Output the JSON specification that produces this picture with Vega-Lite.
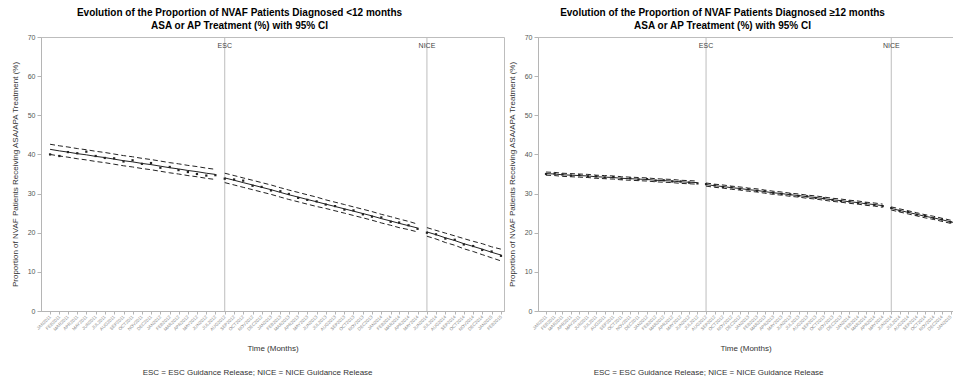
{
  "$schema": "https://vega.github.io/schema/vega-lite/v6.json",
  "background": "white",
  "padding": {"left": 10, "top": 7, "right": 0, "bottom": 0},
  "config": {
    "font": "Liberation Sans",
    "view": {"stroke": "#bdbdbd", "strokeWidth": 1},
    "axis": {"grid": false, "domainColor": "#b5b5b5", "tickColor": "#b5b5b5", "labelColor": "#555555", "titleColor": "#333333", "titleFontWeight": "normal", "titleFontSize": 8, "labelFont": "Liberation Sans", "titleFont": "Liberation Sans"},
    "axisY": {"values": [0, 10, 20, 30, 40, 50, 60, 70], "labelFontSize": 7, "tickSize": 4, "titlePadding": 8, "labelOverlap": false},
    "axisX": {"tickCount": {"interval": "month", "step": 1}, "labelExpr": "upper(utcFormat(datum.value, '%b%Y'))", "labelAngle": 315, "labelAlign": "right", "labelBaseline": "middle", "labelFontSize": 4.5, "labelColor": "#888888", "labelOverlap": false, "labelPadding": 2, "tickSize": 3, "titlePadding": 13},
    "title": {"font": "Liberation Sans", "fontSize": 10, "fontWeight": "bold", "color": "#000000", "anchor": "middle", "lineHeight": 13, "offset": 2}
  },
  "datasets": {
    "left": [
      {"date":"2011-01-01","seg":1,"mean":41.3,"hi":42.6,"lo":40.0,"obs":40.0},
      {"date":"2011-02-01","seg":1,"mean":40.9,"hi":42.2,"lo":39.6,"obs":39.6},
      {"date":"2011-03-01","seg":1,"mean":40.6,"hi":41.9,"lo":39.3,"obs":40.6},
      {"date":"2011-04-01","seg":1,"mean":40.2,"hi":41.5,"lo":38.9,"obs":40.3},
      {"date":"2011-05-01","seg":1,"mean":39.9,"hi":41.2,"lo":38.6,"obs":40.7},
      {"date":"2011-06-01","seg":1,"mean":39.5,"hi":40.8,"lo":38.2,"obs":39.6},
      {"date":"2011-07-01","seg":1,"mean":39.2,"hi":40.5,"lo":37.9,"obs":39.1},
      {"date":"2011-08-01","seg":1,"mean":38.8,"hi":40.1,"lo":37.5,"obs":39.0},
      {"date":"2011-09-01","seg":1,"mean":38.4,"hi":39.7,"lo":37.1,"obs":38.2},
      {"date":"2011-10-01","seg":1,"mean":38.1,"hi":39.4,"lo":36.8,"obs":38.5},
      {"date":"2011-11-01","seg":1,"mean":37.7,"hi":39.0,"lo":36.4,"obs":37.6},
      {"date":"2011-12-01","seg":1,"mean":37.4,"hi":38.7,"lo":36.1,"obs":37.8},
      {"date":"2012-01-01","seg":1,"mean":37.0,"hi":38.3,"lo":35.7,"obs":36.6},
      {"date":"2012-02-01","seg":1,"mean":36.6,"hi":37.9,"lo":35.3,"obs":36.8},
      {"date":"2012-03-01","seg":1,"mean":36.3,"hi":37.6,"lo":35.0,"obs":36.0},
      {"date":"2012-04-01","seg":1,"mean":35.9,"hi":37.2,"lo":34.6,"obs":35.5},
      {"date":"2012-05-01","seg":1,"mean":35.6,"hi":36.9,"lo":34.3,"obs":35.0},
      {"date":"2012-06-01","seg":1,"mean":35.2,"hi":36.5,"lo":33.9,"obs":34.6},
      {"date":"2012-07-01","seg":1,"mean":34.9,"hi":36.2,"lo":33.6,"obs":34.7},
      {"date":"2012-08-01","seg":2,"mean":34.0,"hi":35.2,"lo":32.8,"obs":33.8},
      {"date":"2012-09-01","seg":2,"mean":33.4,"hi":34.6,"lo":32.2,"obs":33.6},
      {"date":"2012-10-01","seg":2,"mean":32.8,"hi":34.0,"lo":31.6,"obs":33.3},
      {"date":"2012-11-01","seg":2,"mean":32.2,"hi":33.4,"lo":31.0,"obs":32.0},
      {"date":"2012-12-01","seg":2,"mean":31.6,"hi":32.8,"lo":30.4,"obs":31.7},
      {"date":"2013-01-01","seg":2,"mean":31.0,"hi":32.2,"lo":29.8,"obs":30.8},
      {"date":"2013-02-01","seg":2,"mean":30.3,"hi":31.5,"lo":29.1,"obs":30.6},
      {"date":"2013-03-01","seg":2,"mean":29.7,"hi":30.9,"lo":28.5,"obs":29.9},
      {"date":"2013-04-01","seg":2,"mean":29.1,"hi":30.3,"lo":27.9,"obs":28.9},
      {"date":"2013-05-01","seg":2,"mean":28.5,"hi":29.7,"lo":27.3,"obs":28.4},
      {"date":"2013-06-01","seg":2,"mean":27.9,"hi":29.1,"lo":26.7,"obs":28.0},
      {"date":"2013-07-01","seg":2,"mean":27.3,"hi":28.4,"lo":26.2,"obs":27.2},
      {"date":"2013-08-01","seg":2,"mean":26.7,"hi":27.8,"lo":25.6,"obs":26.8},
      {"date":"2013-09-01","seg":2,"mean":26.1,"hi":27.2,"lo":25.0,"obs":25.9},
      {"date":"2013-10-01","seg":2,"mean":25.5,"hi":26.6,"lo":24.4,"obs":25.7},
      {"date":"2013-11-01","seg":2,"mean":24.9,"hi":26.0,"lo":23.8,"obs":24.7},
      {"date":"2013-12-01","seg":2,"mean":24.3,"hi":25.4,"lo":23.2,"obs":24.1},
      {"date":"2014-01-01","seg":2,"mean":23.6,"hi":24.7,"lo":22.5,"obs":23.9},
      {"date":"2014-02-01","seg":2,"mean":23.0,"hi":24.1,"lo":21.9,"obs":22.8},
      {"date":"2014-03-01","seg":2,"mean":22.4,"hi":23.5,"lo":21.3,"obs":22.6},
      {"date":"2014-04-01","seg":2,"mean":21.8,"hi":22.9,"lo":20.8,"obs":21.9},
      {"date":"2014-05-01","seg":2,"mean":21.2,"hi":22.2,"lo":20.2,"obs":21.0},
      {"date":"2014-06-01","seg":3,"mean":20.2,"hi":21.3,"lo":19.1,"obs":20.0},
      {"date":"2014-07-01","seg":3,"mean":19.5,"hi":20.6,"lo":18.4,"obs":19.6},
      {"date":"2014-08-01","seg":3,"mean":18.7,"hi":19.9,"lo":17.5,"obs":18.5},
      {"date":"2014-09-01","seg":3,"mean":18.0,"hi":19.2,"lo":16.8,"obs":18.2},
      {"date":"2014-10-01","seg":3,"mean":17.2,"hi":18.5,"lo":15.9,"obs":17.0},
      {"date":"2014-11-01","seg":3,"mean":16.5,"hi":17.8,"lo":15.2,"obs":16.6},
      {"date":"2014-12-01","seg":3,"mean":15.8,"hi":17.2,"lo":14.4,"obs":15.6},
      {"date":"2015-01-01","seg":3,"mean":15.0,"hi":16.4,"lo":13.6,"obs":15.2},
      {"date":"2015-02-01","seg":3,"mean":14.3,"hi":15.8,"lo":12.8,"obs":14.1}
    ],
    "right": [
      {"date":"2011-01-01","seg":1,"mean":35.1,"hi":35.5,"lo":34.7,"obs":35.0},
      {"date":"2011-02-01","seg":1,"mean":35.0,"hi":35.4,"lo":34.6,"obs":35.1},
      {"date":"2011-03-01","seg":1,"mean":34.8,"hi":35.2,"lo":34.4,"obs":34.9},
      {"date":"2011-04-01","seg":1,"mean":34.7,"hi":35.1,"lo":34.3,"obs":34.6},
      {"date":"2011-05-01","seg":1,"mean":34.6,"hi":35.0,"lo":34.2,"obs":34.7},
      {"date":"2011-06-01","seg":1,"mean":34.5,"hi":34.9,"lo":34.1,"obs":34.4},
      {"date":"2011-07-01","seg":1,"mean":34.3,"hi":34.7,"lo":33.9,"obs":34.4},
      {"date":"2011-08-01","seg":1,"mean":34.2,"hi":34.6,"lo":33.8,"obs":34.1},
      {"date":"2011-09-01","seg":1,"mean":34.1,"hi":34.5,"lo":33.7,"obs":34.2},
      {"date":"2011-10-01","seg":1,"mean":33.9,"hi":34.3,"lo":33.5,"obs":33.8},
      {"date":"2011-11-01","seg":1,"mean":33.8,"hi":34.2,"lo":33.4,"obs":33.9},
      {"date":"2011-12-01","seg":1,"mean":33.7,"hi":34.1,"lo":33.3,"obs":33.6},
      {"date":"2012-01-01","seg":1,"mean":33.6,"hi":34.0,"lo":33.2,"obs":33.7},
      {"date":"2012-02-01","seg":1,"mean":33.4,"hi":33.8,"lo":33.0,"obs":33.3},
      {"date":"2012-03-01","seg":1,"mean":33.3,"hi":33.7,"lo":32.9,"obs":33.4},
      {"date":"2012-04-01","seg":1,"mean":33.2,"hi":33.6,"lo":32.8,"obs":33.1},
      {"date":"2012-05-01","seg":1,"mean":33.0,"hi":33.4,"lo":32.6,"obs":33.1},
      {"date":"2012-06-01","seg":1,"mean":32.9,"hi":33.3,"lo":32.5,"obs":32.8},
      {"date":"2012-07-01","seg":1,"mean":32.8,"hi":33.2,"lo":32.4,"obs":32.6},
      {"date":"2012-08-01","seg":2,"mean":32.3,"hi":32.7,"lo":31.9,"obs":32.4},
      {"date":"2012-09-01","seg":2,"mean":32.0,"hi":32.4,"lo":31.6,"obs":32.1},
      {"date":"2012-10-01","seg":2,"mean":31.8,"hi":32.2,"lo":31.4,"obs":31.7},
      {"date":"2012-11-01","seg":2,"mean":31.5,"hi":31.9,"lo":31.1,"obs":31.6},
      {"date":"2012-12-01","seg":2,"mean":31.3,"hi":31.7,"lo":30.9,"obs":31.2},
      {"date":"2013-01-01","seg":2,"mean":31.0,"hi":31.4,"lo":30.6,"obs":31.1},
      {"date":"2013-02-01","seg":2,"mean":30.8,"hi":31.2,"lo":30.4,"obs":30.7},
      {"date":"2013-03-01","seg":2,"mean":30.5,"hi":30.9,"lo":30.1,"obs":30.6},
      {"date":"2013-04-01","seg":2,"mean":30.2,"hi":30.6,"lo":29.8,"obs":30.2},
      {"date":"2013-05-01","seg":2,"mean":30.0,"hi":30.4,"lo":29.6,"obs":29.9},
      {"date":"2013-06-01","seg":2,"mean":29.7,"hi":30.1,"lo":29.3,"obs":29.8},
      {"date":"2013-07-01","seg":2,"mean":29.5,"hi":29.9,"lo":29.1,"obs":29.4},
      {"date":"2013-08-01","seg":2,"mean":29.2,"hi":29.6,"lo":28.8,"obs":29.3},
      {"date":"2013-09-01","seg":2,"mean":29.0,"hi":29.4,"lo":28.6,"obs":28.9},
      {"date":"2013-10-01","seg":2,"mean":28.7,"hi":29.1,"lo":28.3,"obs":28.8},
      {"date":"2013-11-01","seg":2,"mean":28.4,"hi":28.8,"lo":28.0,"obs":28.4},
      {"date":"2013-12-01","seg":2,"mean":28.2,"hi":28.6,"lo":27.8,"obs":28.1},
      {"date":"2014-01-01","seg":2,"mean":27.9,"hi":28.3,"lo":27.5,"obs":28.0},
      {"date":"2014-02-01","seg":2,"mean":27.7,"hi":28.1,"lo":27.3,"obs":27.6},
      {"date":"2014-03-01","seg":2,"mean":27.4,"hi":27.8,"lo":27.0,"obs":27.5},
      {"date":"2014-04-01","seg":2,"mean":27.2,"hi":27.6,"lo":26.8,"obs":27.1},
      {"date":"2014-05-01","seg":2,"mean":26.9,"hi":27.3,"lo":26.5,"obs":26.8},
      {"date":"2014-06-01","seg":3,"mean":26.2,"hi":26.6,"lo":25.8,"obs":26.3},
      {"date":"2014-07-01","seg":3,"mean":25.7,"hi":26.1,"lo":25.3,"obs":25.6},
      {"date":"2014-08-01","seg":3,"mean":25.2,"hi":25.6,"lo":24.8,"obs":25.3},
      {"date":"2014-09-01","seg":3,"mean":24.7,"hi":25.1,"lo":24.3,"obs":24.6},
      {"date":"2014-10-01","seg":3,"mean":24.2,"hi":24.6,"lo":23.8,"obs":24.3},
      {"date":"2014-11-01","seg":3,"mean":23.8,"hi":24.2,"lo":23.4,"obs":23.7},
      {"date":"2014-12-01","seg":3,"mean":23.3,"hi":23.7,"lo":22.9,"obs":23.4},
      {"date":"2015-01-01","seg":3,"mean":22.8,"hi":23.2,"lo":22.4,"obs":22.7},
      {"date":"2015-02-01","seg":3,"mean":22.3,"hi":22.7,"lo":21.9,"obs":22.3}
    ],
    "guides": [
      {"date":"2012-08-01","label":"ESC"},
      {"date":"2014-06-01","label":"NICE"}
    ]
  },
  "spacing": 2,
  "hconcat": [
    {
      "title": {"text": "ESC = ESC Guidance Release; NICE = NICE Guidance Release", "orient": "bottom", "fontSize": 8, "fontWeight": "normal", "color": "#333333", "dx": 0, "offset": 16},
      "vconcat": [
        {
          "width": 463,
          "height": 274,
          "title": {"text": ["Evolution of the Proportion of NVAF Patients Diagnosed <12 months", "ASA or AP Treatment (%) with 95% CI"], "dx": -33},
          "layer": [
            {
              "data": {"name": "guides"},
              "mark": {"type": "rule", "color": "#bdbdbd", "strokeWidth": 1},
              "encoding": {
                "x": {"field": "date", "type": "temporal", "title": "Time (Months)", "scale": {"type": "utc", "nice": false, "domain": [{"year": 2010, "month": 12, "date": 2, "utc": true}, {"year": 2015, "month": 2, "date": 11, "utc": true}]}}
              }
            },
            {
              "data": {"name": "guides"},
              "mark": {"type": "text", "fontSize": 7, "color": "#444444", "baseline": "middle"},
              "encoding": {
                "x": {"field": "date", "type": "temporal", "title": "Time (Months)"},
                "y": {"datum": 67.6, "type": "quantitative", "title": "Proportion of NVAF Patients Receiving ASA/APA Treatment (%)", "scale": {"domain": [0, 70], "nice": false}},
                "text": {"field": "label"}
              }
            },
            {
              "data": {"name": "left"},
              "mark": {"type": "line", "color": "#222222", "strokeWidth": 1, "strokeDash": [5, 3]},
              "encoding": {
                "x": {"field": "date", "type": "temporal", "title": "Time (Months)"},
                "y": {"field": "hi", "type": "quantitative", "title": "Proportion of NVAF Patients Receiving ASA/APA Treatment (%)"},
                "detail": {"field": "seg"}
              }
            },
            {
              "data": {"name": "left"},
              "mark": {"type": "line", "color": "#222222", "strokeWidth": 1, "strokeDash": [5, 3]},
              "encoding": {
                "x": {"field": "date", "type": "temporal", "title": "Time (Months)"},
                "y": {"field": "lo", "type": "quantitative", "title": "Proportion of NVAF Patients Receiving ASA/APA Treatment (%)"},
                "detail": {"field": "seg"}
              }
            },
            {
              "data": {"name": "left"},
              "mark": {"type": "line", "color": "#222222", "strokeWidth": 1},
              "encoding": {
                "x": {"field": "date", "type": "temporal", "title": "Time (Months)"},
                "y": {"field": "mean", "type": "quantitative", "title": "Proportion of NVAF Patients Receiving ASA/APA Treatment (%)"},
                "detail": {"field": "seg"}
              }
            },
            {
              "data": {"name": "left"},
              "mark": {"type": "point", "shape": "square", "filled": true, "size": 5, "color": "#222222", "opacity": 1},
              "encoding": {
                "x": {"field": "date", "type": "temporal", "title": "Time (Months)"},
                "y": {"field": "obs", "type": "quantitative", "title": "Proportion of NVAF Patients Receiving ASA/APA Treatment (%)"}
              }
            }
          ]
        }
      ]
    },
    {
      "title": {"text": "ESC = ESC Guidance Release; NICE = NICE Guidance Release", "orient": "bottom", "fontSize": 8, "fontWeight": "normal", "color": "#333333", "dx": -22, "offset": 16},
      "vconcat": [
        {
          "width": 415,
          "height": 274,
          "title": {"text": ["Evolution of the Proportion of NVAF Patients Diagnosed ≥12 months", "ASA or AP Treatment (%) with 95% CI"], "dx": -23},
          "layer": [
            {
              "data": {"name": "guides"},
              "mark": {"type": "rule", "color": "#bdbdbd", "strokeWidth": 1},
              "encoding": {
                "x": {"field": "date", "type": "temporal", "title": "Time (Months)", "scale": {"type": "utc", "nice": false, "domain": [{"year": 2010, "month": 12, "date": 3, "utc": true}, {"year": 2015, "month": 1, "date": 10, "utc": true}]}}
              }
            },
            {
              "data": {"name": "guides"},
              "mark": {"type": "text", "fontSize": 7, "color": "#444444", "baseline": "middle"},
              "encoding": {
                "x": {"field": "date", "type": "temporal", "title": "Time (Months)"},
                "y": {"datum": 67.6, "type": "quantitative", "title": "Proportion of NVAF Patients Receiving ASA/APA Treatment (%)", "scale": {"domain": [0, 70], "nice": false}},
                "text": {"field": "label"}
              }
            },
            {
              "data": {"name": "right"},
              "mark": {"type": "line", "color": "#222222", "strokeWidth": 1, "strokeDash": [5, 3], "clip": true},
              "encoding": {
                "x": {"field": "date", "type": "temporal", "title": "Time (Months)"},
                "y": {"field": "hi", "type": "quantitative", "title": "Proportion of NVAF Patients Receiving ASA/APA Treatment (%)"},
                "detail": {"field": "seg"}
              }
            },
            {
              "data": {"name": "right"},
              "mark": {"type": "line", "color": "#222222", "strokeWidth": 1, "strokeDash": [5, 3], "clip": true},
              "encoding": {
                "x": {"field": "date", "type": "temporal", "title": "Time (Months)"},
                "y": {"field": "lo", "type": "quantitative", "title": "Proportion of NVAF Patients Receiving ASA/APA Treatment (%)"},
                "detail": {"field": "seg"}
              }
            },
            {
              "data": {"name": "right"},
              "mark": {"type": "line", "color": "#222222", "strokeWidth": 1, "clip": true},
              "encoding": {
                "x": {"field": "date", "type": "temporal", "title": "Time (Months)"},
                "y": {"field": "mean", "type": "quantitative", "title": "Proportion of NVAF Patients Receiving ASA/APA Treatment (%)"},
                "detail": {"field": "seg"}
              }
            },
            {
              "data": {"name": "right"},
              "mark": {"type": "point", "shape": "square", "filled": true, "size": 5, "color": "#222222", "opacity": 1, "clip": true},
              "encoding": {
                "x": {"field": "date", "type": "temporal", "title": "Time (Months)"},
                "y": {"field": "obs", "type": "quantitative", "title": "Proportion of NVAF Patients Receiving ASA/APA Treatment (%)"}
              }
            }
          ]
        }
      ]
    }
  ]
}
